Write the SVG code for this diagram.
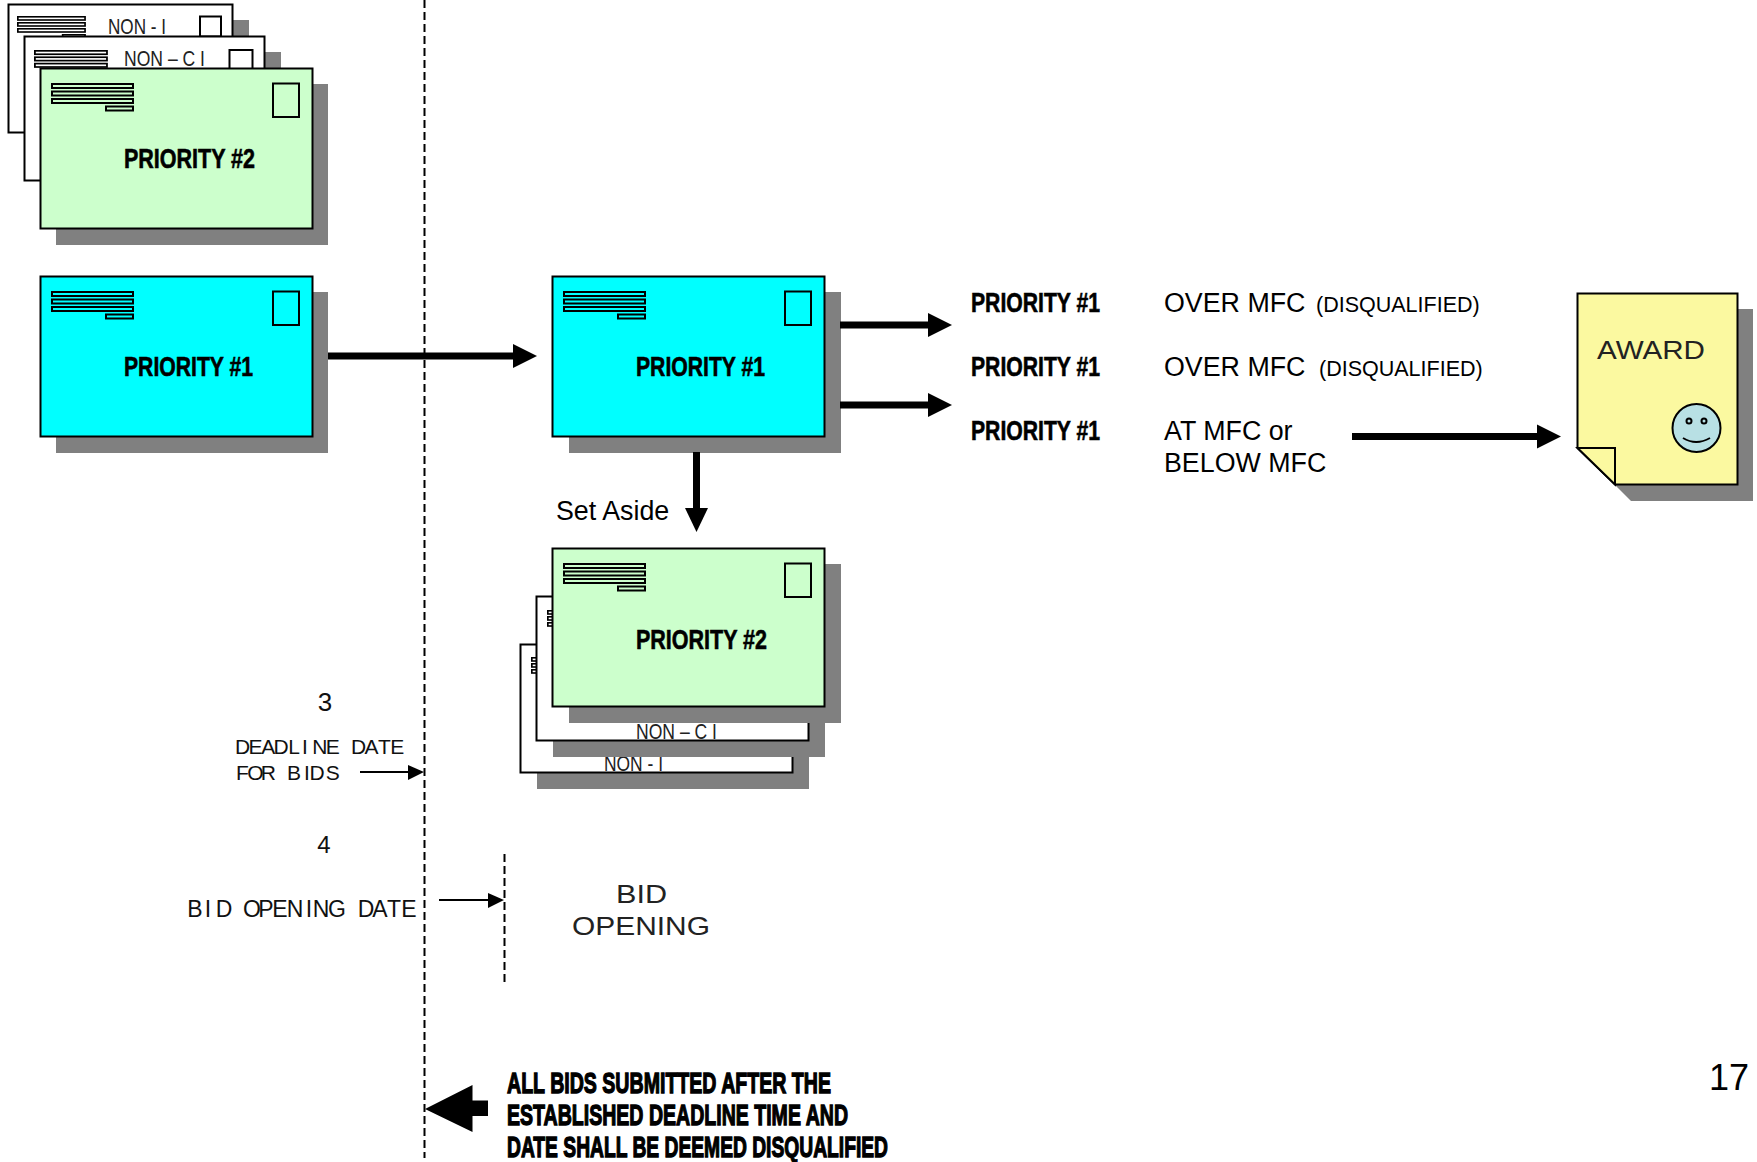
<svg xmlns="http://www.w3.org/2000/svg" width="1757" height="1162" viewBox="0 0 1757 1162">
<style>
.sh{fill:#808080}
.ln{stroke:#000;stroke-width:2;stroke-linejoin:miter}
.w{fill:#fff}.g{fill:#ccffcc}.c{fill:#00ffff}
.hl .ln{stroke-width:3}
.pr{font:bold 27px "Liberation Sans Narrow","Liberation Sans",sans-serif;fill:#000;stroke:#000;stroke-width:.6}
.non{font:22px "Liberation Sans Narrow","Liberation Sans",sans-serif;fill:#222}
.t{font:26.800px "Liberation Sans",sans-serif;fill:#000}
.t2{font:26px "Liberation Sans",sans-serif;fill:#222}
.s{font:21.500px "Liberation Sans",sans-serif;fill:#000}
.m{font:21px "Liberation Sans Narrow","Liberation Sans",sans-serif;fill:#111;text-anchor:middle}
.m2{font:23px "Liberation Sans Narrow","Liberation Sans",sans-serif;fill:#111;text-anchor:middle}
.hv{font:bold 29px "Liberation Sans Narrow","Liberation Sans",sans-serif;fill:#000;stroke:#000;stroke-width:1.300}
.dash{stroke:#000;stroke-width:2;stroke-dasharray:8 4;fill:none}
.fat{stroke:#000;stroke-width:7;fill:none}
.thin{stroke:#000;stroke-width:2;fill:none}
</style>
<defs>
<g id="addr">
<rect x="1" y="1" width="81" height="4" class="ln"/><rect x="1" y="8.500" width="81" height="4" class="ln"/><rect x="1" y="16" width="81" height="4" class="ln"/><rect x="55" y="23.500" width="27" height="4" class="ln"/>
</g>
</defs>
<g id="stack-top-left">
<rect class="sh" x="24" y="20" width="225" height="129"/>
<rect class="w ln" x="8.500" y="4.500" width="224" height="128"/>
<g class="w hl"><use href="#addr" transform="translate(17,16) scale(.83,.8)"/></g>
<rect class="w ln" x="200" y="16.500" width="21" height="20"/>
<text class="non" x="108" y="34" textLength="58" lengthAdjust="spacingAndGlyphs">NON - I</text>
<rect class="sh" x="40" y="52" width="241" height="144"/>
<rect class="w ln" x="24.500" y="36.500" width="240" height="144"/>
<g class="w hl"><use href="#addr" transform="translate(34,50) scale(.89,.85)"/></g>
<rect class="w ln" x="229.500" y="50" width="23" height="22"/>
<text class="non" x="124" y="66" textLength="81" lengthAdjust="spacingAndGlyphs">NON – C I</text>
<rect class="sh" x="56" y="84" width="272" height="161"/>
<rect class="g ln" x="40.500" y="68.500" width="272" height="160"/>
<g class="g"><use href="#addr" transform="translate(51,83)"/></g>
<rect class="g ln" x="273" y="83.500" width="26" height="33.500"/>
<text class="pr" x="124" y="168" textLength="131" lengthAdjust="spacingAndGlyphs">PRIORITY #2</text>
</g>
<g id="envelope-priority1-left">
<rect class="sh" x="56" y="292" width="272" height="161"/>
<rect class="c ln" x="40.500" y="276.500" width="272" height="160"/>
<g class="c"><use href="#addr" transform="translate(51,291)"/></g>
<rect class="c ln" x="273" y="291.500" width="26" height="33.500"/>
<text class="pr" x="124" y="376" textLength="129" lengthAdjust="spacingAndGlyphs">PRIORITY #1</text>
</g>
<g id="envelope-priority1-center">
<rect class="sh" x="569" y="292" width="272" height="161"/>
<rect class="c ln" x="552.500" y="276.500" width="272" height="160"/>
<g class="c"><use href="#addr" transform="translate(563,291)"/></g>
<rect class="c ln" x="785" y="291.500" width="26" height="33.500"/>
<text class="pr" x="636" y="376" textLength="129" lengthAdjust="spacingAndGlyphs">PRIORITY #1</text>
</g>
<g id="stack-set-aside">
<rect class="sh" x="537" y="660" width="272" height="129"/>
<rect class="w ln" x="520.500" y="644.500" width="272" height="128"/>
<g class="w"><use href="#addr" transform="translate(531,657) scale(.83,.8)"/></g>
<text class="non" x="604" y="771" textLength="59" lengthAdjust="spacingAndGlyphs">NON - I</text>
<rect class="sh" x="553" y="612" width="272" height="145"/>
<rect class="w ln" x="536.500" y="596.500" width="272" height="144"/>
<g class="w"><use href="#addr" transform="translate(547,610) scale(.83,.8)"/></g>
<text class="non" x="636" y="739" textLength="81" lengthAdjust="spacingAndGlyphs">NON – C I</text>
<rect class="sh" x="569" y="564" width="272" height="159"/>
<rect class="g ln" x="552.500" y="548.500" width="272" height="158"/>
<g class="g"><use href="#addr" transform="translate(563,563)"/></g>
<rect class="g ln" x="785" y="563.500" width="26" height="33.500"/>
<text class="pr" x="636" y="649" textLength="131" lengthAdjust="spacingAndGlyphs">PRIORITY #2</text>
</g>
<g id="award">
<polygon class="sh" points="1593,309 1753,309 1753,501 1631,501 1593,463"/>
<polygon class="ln" fill="#fbf9a0" points="1577.500,293.500 1737.500,293.500 1737.500,484.500 1615,484.500 1577.500,448"/>
<polygon class="ln" fill="#fbf9a0" points="1577.500,448 1615,448 1615,484.500"/>
<text class="t2" x="1597" y="359" textLength="108" lengthAdjust="spacingAndGlyphs">AWARD</text>
<circle class="ln" cx="1696.500" cy="428" r="24" fill="#b8e0e4"/>
<circle class="ln" cx="1689" cy="421" r="2.500" fill="#b8e0e4"/>
<circle class="ln" cx="1704" cy="421" r="2.500" fill="#b8e0e4"/>
<path class="thin" d="M1683 438 Q1696 446 1710 438"/>
</g>
<g id="connectors">
<path class="dash" d="M424.500 0V1158"/>
<path class="dash" d="M504.500 851V982" stroke-dashoffset="-3"/>
<path class="fat" d="M328 356H515"/><polygon points="513,344 537,356 513,368"/>
<path class="fat" d="M840 325H930"/><polygon points="928,313 952,325 928,337"/>
<path class="fat" d="M840 405H930"/><polygon points="928,393 952,405 928,417"/>
<path class="fat" d="M1352 436.500H1540"/><polygon points="1537,424.500 1561,436.500 1537,448.500"/>
<path class="fat" d="M696.500 452V510"/><polygon points="685,508 708,508 696.500,532"/>
<path class="thin" d="M360 772H410"/><polygon points="408,765 424,772 408,780"/>
<path class="thin" d="M439 900H490"/><polygon points="488,893 504,900 488,908"/>
<polygon points="425,1109 472.500,1085 472.500,1100.500 488,1100.500 488,1116 472.500,1116 472.500,1132"/>
</g>
<g id="labels">
<text class="pr" x="971" y="312" textLength="129" lengthAdjust="spacingAndGlyphs">PRIORITY #1</text>
<text class="pr" x="971" y="376" textLength="129" lengthAdjust="spacingAndGlyphs">PRIORITY #1</text>
<text class="pr" x="971" y="440" textLength="129" lengthAdjust="spacingAndGlyphs">PRIORITY #1</text>
<text class="t" x="1164" y="312">OVER MFC</text>
<text class="t" x="1164" y="376">OVER MFC</text>
<text class="t" x="1164" y="440">AT MFC or</text>
<text class="t" x="1164" y="472">BELOW MFC</text>
<text class="s" x="1316" y="312">(DISQUALIFIED)</text>
<text class="s" x="1319" y="376">(DISQUALIFIED)</text>
<text class="t" x="556" y="520">Set Aside</text>
<text class="m2" x="325" y="711" style="font-size:26px">3</text>
<text class="m2" x="324" y="853" style="font-size:24px">4</text>
<text class="m" x="242.500 255.400 268.300 281.200 294.100 305 319.900 332.800 345.700 358.600 371.500 384.400 397.300" y="754">DEADLINE DATE</text>
<text class="m" x="242.500 255.400 268.300 281.200 294.100 307 317 332.800" y="780">FOR BIDS</text>
<text class="m2" x="195 208 224 238 252 266 280 295 309 321 337 351 366 380 394 409" y="917">BID OPENING DATE</text>
<text class="t2" x="616" y="903" textLength="51" lengthAdjust="spacingAndGlyphs">BID</text>
<text class="t2" x="572" y="935" textLength="138" lengthAdjust="spacingAndGlyphs">OPENING</text>
<text class="hv" x="507" y="1093" textLength="324" lengthAdjust="spacingAndGlyphs">ALL BIDS SUBMITTED AFTER THE</text>
<text class="hv" x="507" y="1125" textLength="341" lengthAdjust="spacingAndGlyphs">ESTABLISHED DEADLINE TIME AND</text>
<text class="hv" x="507" y="1157" textLength="381" lengthAdjust="spacingAndGlyphs">DATE SHALL BE DEEMED DISQUALIFIED</text>
<text x="1709" y="1090" style="font:36px 'Liberation Sans',sans-serif">17</text>
</g>
</svg>
